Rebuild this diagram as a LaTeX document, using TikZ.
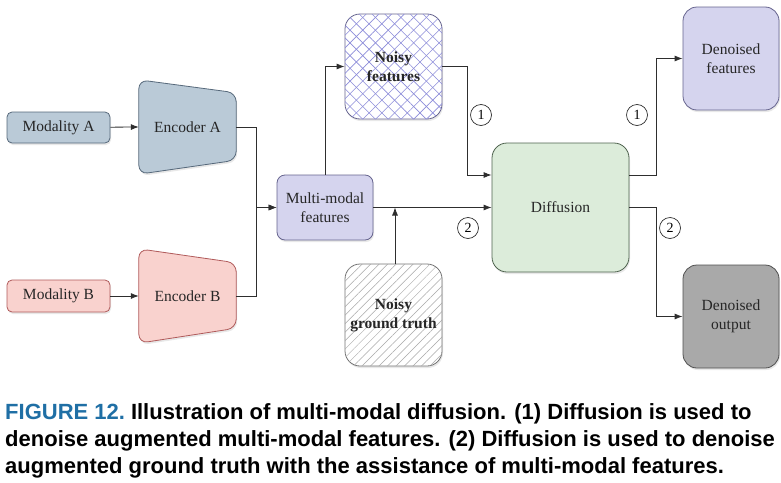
\documentclass[tikz,border=0pt]{standalone}
\usepackage{fontspec}
\setmainfont{Liberation Serif}
\newfontfamily\capfont{Liberation Sans}
\usetikzlibrary{arrows.meta,patterns.meta,calc,shadows}
\definecolor{modA}{HTML}{BACAD7}
\definecolor{modAd}{HTML}{56687A}
\definecolor{modB}{HTML}{F9D2CE}
\definecolor{modBd}{HTML}{B05A5A}
\definecolor{mmf}{HTML}{D5D4EE}
\definecolor{mmfd}{HTML}{66648E}
\definecolor{difff}{HTML}{DCECDA}
\definecolor{diffd}{HTML}{4E624E}
\definecolor{outf}{HTML}{A9A9A9}
\definecolor{outd}{HTML}{505050}
\definecolor{hatchA}{HTML}{8C8CDA}
\definecolor{hatchB}{HTML}{A8A8A8}
\definecolor{capblue}{HTML}{1F6FA5}
\definecolor{linec}{HTML}{2E2E2E}
\tikzset{
  lbl/.style={font=\rmfamily\fontsize{15.5}{19}\selectfont, align=center, text=black!85},
  box/.style={lbl, draw, line width=0.8pt, rectangle},
  shd/.style={drop shadow={opacity=0.18, shadow xshift=1pt, shadow yshift=-2pt}},
  ghost/.style={rectangle, inner sep=0pt},
  conn/.style={draw=linec, line width=0.8pt},
  arr/.style={conn, -{Latex[length=8pt,width=6pt]}},
  num/.style={circle, draw=linec, line width=0.7pt, minimum size=21pt, inner sep=0pt, font=\rmfamily\fontsize{14}{14}\selectfont},
  capline/.style={anchor=base west, inner sep=0pt, font=\capfont\bfseries\fontsize{22}{26}\selectfont}
}
\begin{document}
\begin{tikzpicture}[x=1pt,y=-1pt]
\useasboundingbox (0,0) rectangle (781,482);
% Modalities
\node[box, shd, fill=modA, draw=modAd, minimum width=103pt, minimum height=31pt, rounded corners=5pt] (modA) at (58.5,127.5) {Modality A};
\node[box, shd, fill=modB, draw=modBd, minimum width=103pt, minimum height=32pt, rounded corners=5pt] (modB) at (58.5,296) {Modality B};
% Encoders
\node[ghost, minimum width=97pt, minimum height=94pt] (encA) at (187.5,127) {};
\fill[modA, rounded corners=9pt, shd] (encA.north west) -- ([yshift=-13pt]encA.north east) -- ([yshift=14pt]encA.south east) -- (encA.south west) -- cycle;
\draw[modAd, line width=0.8pt, rounded corners=9pt] (encA.north west) -- ([yshift=-13pt]encA.north east) -- ([yshift=14pt]encA.south east) -- (encA.south west) -- cycle;
\node[lbl] at (encA) {Encoder A};
\node[ghost, minimum width=97pt, minimum height=94pt] (encB) at (187.5,296) {};
\fill[modB, rounded corners=9pt, shd] (encB.north west) -- ([yshift=-14pt]encB.north east) -- ([yshift=15pt]encB.south east) -- (encB.south west) -- cycle;
\draw[modBd, line width=0.8pt, rounded corners=9pt] (encB.north west) -- ([yshift=-14pt]encB.north east) -- ([yshift=15pt]encB.south east) -- (encB.south west) -- cycle;
\node[lbl] at (encB) {Encoder B};
% Multi-modal
\node[box, shd, fill=mmf, draw=mmfd, minimum width=96pt, minimum height=65pt, rounded corners=8pt] (mm) at (325,207.5) {Multi-modal\\features};
% Noisy features
\node[box, shd, draw=mmfd, fill=white, minimum width=97pt, minimum height=105pt, rounded corners=15pt,
  postaction={pattern={Lines[angle=45,distance=9pt,line width=0.6pt]}, pattern color=hatchA},
  postaction={pattern={Lines[angle=-45,distance=9pt,line width=0.6pt]}, pattern color=hatchA},
  font=\rmfamily\bfseries\fontsize{15.5}{19}\selectfont] (nf) at (393.5,66.5) {Noisy\\features};
% Noisy ground truth
\node[box, shd, draw=outd!80, fill=white, minimum width=97pt, minimum height=102pt, rounded corners=15pt,
  postaction={pattern={Lines[angle=45,distance=6pt,line width=0.5pt]}, pattern color=hatchB},
  font=\rmfamily\bfseries\fontsize{15.5}{19}\selectfont] (ngt) at (393.5,315) {Noisy\\ground truth};
% Diffusion
\node[box, shd, fill=difff, draw=diffd, minimum width=137pt, minimum height=129pt, rounded corners=15pt] (diff) at (560.5,207.5) {Diffusion};
% Outputs
\node[box, shd, fill=mmf, draw=mmfd, minimum width=96pt, minimum height=103pt, rounded corners=14pt] (df) at (731,58.5) {Denoised\\features};
\node[box, shd, fill=outf, draw=outd, minimum width=96pt, minimum height=103pt, rounded corners=14pt] (do) at (731,316.5) {Denoised\\output};
% Connectors
\draw[arr] (modA) -- (encA.west);
\draw[arr] (modB) -- (encB.west);
\draw[arr] (encA.east) -| ([xshift=-20pt]mm.west) -- (mm.west);
\draw[arr] (encB.east) -| ([xshift=-20pt]mm.west) -- (mm.west);
\draw[arr] (mm.north) |- (nf.west);
\draw[arr] (nf.east) -- ++(25,0) |- ([yshift=32.5pt]diff.west);
\draw[arr] (mm.east) -- (diff.west);
\draw[arr] ([xshift=1.5pt]ngt.north) -- ([xshift=1.5pt]ngt.north |- mm.east);
\draw[arr] ([yshift=32.5pt]diff.east) -- ++(27,0) |- (df.west);
\draw[arr] (diff.east) -- ++(27,0) |- (do.west);
% Circled numbers
\node[num] (c1a) at (481,115) {1};
\node[num] (c2a) at (468,228) {2};
\node[num] (c1b) at (637,115) {1};
\node[num] (c2b) at (670,228) {2};
% Caption
\node[capline] (cap1) at (5,419) {\textcolor{capblue}{FIGURE 12.}\hspace{6pt}Illustration of multi-modal diffusion. (1) Diffusion is used to};
\node[capline] (cap2) at (5,446) {denoise augmented multi-modal features. (2) Diffusion is used to denoise};
\node[capline] (cap3) at (5,473) {augmented ground truth with the assistance of multi-modal features.};
\end{tikzpicture}
\end{document}
